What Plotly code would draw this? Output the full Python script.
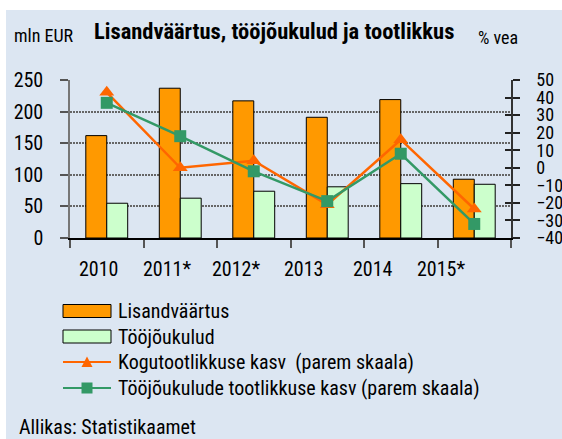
import plotly.graph_objects as go

# --- data ---------------------------------------------------------------
years = ["2010", "2011*", "2012*", "2013", "2014", "2015*"]
lisandvaartus = [162, 237, 217, 191, 219, 93]          # mln EUR
toojoukulud = [55, 63, 74, 81, 86, 85]                 # mln EUR
kogutootlikkus = [43, 0, 4, -21, 16, -23.5]            # % vea
toojoukulude_tootlikkus = [37, 18, -2, -19, 8, -32]    # % vea

left_ticks = [0, 50, 100, 150, 200, 250]
right_ticks = list(range(-40, 51, 10))

# --- geometry helpers (pixel -> paper) ----------------------------------
W, H = 562, 439
L, R, T, B = 70, 51, 80, 201
PW, PH = W - L - R, H - T - B


def px(x):
    return (x - L) / PW


def py(y):
    return (H - B - y) / PH


FONT = "Roboto Condensed, Liberation Sans Narrow, DejaVu Sans Condensed, Roboto, sans-serif"
ORANGE_BAR = "#FF9900"
GREEN_BAR = "#CCFFCC"
ORANGE_LINE = "#FF6600"
GREEN_LINE = "#339966"
BG = "#DCE6F2"

fig = go.Figure()

fig.add_trace(go.Bar(
    x=years, y=lisandvaartus, name="Lisandväärtus",
    marker=dict(color=ORANGE_BAR, line=dict(color="#000", width=1)),
    showlegend=False,
))
fig.add_trace(go.Bar(
    x=years, y=toojoukulud, name="Tööjõukulud",
    marker=dict(color=GREEN_BAR, line=dict(color="#000", width=1)),
    showlegend=False,
))
fig.add_trace(go.Scatter(
    x=years, y=kogutootlikkus, yaxis="y2", mode="lines+markers",
    name="Kogutootlikkuse kasv  (parem skaala)",
    line=dict(color=ORANGE_LINE, width=2.5),
    marker=dict(symbol="triangle-up", size=13, color=ORANGE_LINE),
    showlegend=False,
))
fig.add_trace(go.Scatter(
    x=years, y=toojoukulude_tootlikkus, yaxis="y2", mode="lines+markers",
    name="Tööjõukulude tootlikkuse kasv (parem skaala)",
    line=dict(color=GREEN_LINE, width=2.5),
    marker=dict(symbol="square", size=12, color=GREEN_LINE),
    showlegend=False,
))

shapes = []
# panel background
shapes.append(dict(type="rect", xref="paper", yref="paper", layer="below",
                   x0=px(6), x1=px(W + 5), y0=py(10), y1=py(H + 5),
                   fillcolor=BG, line=dict(width=0)))

# hand-drawn legend
rows = [311, 336.5, 362, 388]
sx0, sx1 = 63, 111
for yc, col in zip(rows[:2], [ORANGE_BAR, GREEN_BAR]):
    shapes.append(dict(type="rect", xref="paper", yref="paper",
                       x0=px(sx0), x1=px(sx1), y0=py(yc + 6.5), y1=py(yc - 6.5),
                       fillcolor=col, line=dict(color="#000", width=1)))
for yc, col in zip(rows[2:], [ORANGE_LINE, GREEN_LINE]):
    shapes.append(dict(type="line", xref="paper", yref="paper",
                       x0=px(sx0), x1=px(sx1), y0=py(yc), y1=py(yc),
                       line=dict(color=col, width=2)))
cx = (sx0 + sx1) / 2
# triangle glyph
yc = rows[2]
tri = (f"M {px(cx - 5.5)} {py(yc + 5)} L {px(cx + 5.5)} {py(yc + 5)} "
       f"L {px(cx)} {py(yc - 5.5)} Z")
shapes.append(dict(type="path", xref="paper", yref="paper", path=tri,
                   fillcolor=ORANGE_LINE, line=dict(width=0)))
# square glyph
yc = rows[3]
shapes.append(dict(type="rect", xref="paper", yref="paper",
                   x0=px(cx - 5.5), x1=px(cx + 5.5), y0=py(yc + 5.5), y1=py(yc - 5.5),
                   fillcolor=GREEN_LINE, line=dict(width=0)))

legend_labels = ["Lisandväärtus", "Tööjõukulud",
                 "Kogutootlikkuse kasv  (parem skaala)",
                 "Tööjõukulude tootlikkuse kasv (parem skaala)"]

annotations = []
for yc, lab in zip(rows, legend_labels):
    annotations.append(dict(xref="paper", yref="paper", x=px(116), y=py(yc),
                            xanchor="left", yanchor="middle", showarrow=False,
                            text=lab.replace("  ", "&nbsp; "),
                            font=dict(family=FONT, size=20, color="#000")))

# year labels under the axis, set on a slightly tighter pitch than the categories
label_x0, label_step = 99, 68.4
for i, yr in enumerate(years):
    annotations.append(dict(xref="paper", yref="paper", x=px(label_x0 + i * label_step),
                            y=py(269), xanchor="center", yanchor="middle",
                            showarrow=False, text=yr,
                            font=dict(family=FONT, size=20, color="#000")))

annotations += [
    dict(xref="paper", yref="paper", x=px(274), y=py(31), xanchor="center", yanchor="middle",
         showarrow=False, text="<b>Lisandväärtus, tööjõukulud ja tootlikkus</b>",
         font=dict(family=FONT, size=22.5, color="#000")),
    dict(xref="paper", yref="paper", x=px(12), y=py(35), xanchor="left", yanchor="middle",
         showarrow=False, text="mln EUR", font=dict(family=FONT, size=18, color="#000")),
    dict(xref="paper", yref="paper", x=px(476), y=py(38), xanchor="left", yanchor="middle",
         showarrow=False, text="% vea", font=dict(family=FONT, size=18, color="#000")),
    dict(xref="paper", yref="paper", x=px(17), y=py(427), xanchor="left", yanchor="middle",
         showarrow=False, text="Allikas: Statistikaamet",
         font=dict(family=FONT, size=20, color="#000")),
]

fig.update_layout(
    width=W, height=H, autosize=False,
    margin=dict(l=L, r=R, t=T, b=B, pad=0, autoexpand=False),
    paper_bgcolor="white",
    plot_bgcolor="rgba(0,0,0,0)",
    barmode="group", bargap=0.43, bargroupgap=0,
    font=dict(family=FONT, size=20, color="#000"),
    shapes=shapes, annotations=annotations,
    xaxis=dict(
        type="category", tickson="boundaries", ticks="outside", ticklen=8,
        tickcolor="#555", tickwidth=1.5, automargin=False,
        showline=True, linecolor="#000", linewidth=1.5,
        showgrid=False, showticklabels=False,
    ),
    yaxis=dict(
        range=[0, 250], tickvals=left_ticks, ticks="outside", ticklen=8,
        tickcolor="#555", tickwidth=1.5, automargin=False,
        showline=True, linecolor="#777", linewidth=1.5,
        showgrid=True, gridcolor="#666", gridwidth=1.5, griddash="2px,1px",
        zeroline=False, tickfont=dict(size=20), ticklabelstandoff=13,
    ),
    yaxis2=dict(
        range=[-40, 50], tickvals=right_ticks, overlaying="y", side="right",
        ticks="outside", ticklen=7, tickcolor="#222", tickwidth=1.5,
        automargin=False,
        showline=True, linecolor="#333", linewidth=1.5,
        showgrid=False, zeroline=False, tickfont=dict(size=18),
        ticklabelstandoff=13,
    ),
    yaxis3=dict(
        range=[-40, 50], tickvals=right_ticks, overlaying="y", side="right",
        anchor="x", ticks="inside", ticklen=6, tickcolor="#222", tickwidth=1.5,
        automargin=False,
        showline=False, showgrid=False, zeroline=False, showticklabels=False,
    ),
)

# invisible trace so the inner tick axis gets drawn
fig.add_trace(go.Scatter(x=[years[0]], y=[0], yaxis="y3", mode="markers",
                         marker=dict(opacity=0), showlegend=False, hoverinfo="skip"))

fig.write_html(
    "out.html",
    config={"responsive": False, "displayModeBar": False},
    post_script="document.documentElement.style.overflow='hidden';"
                "document.body.style.margin='0';",
)
